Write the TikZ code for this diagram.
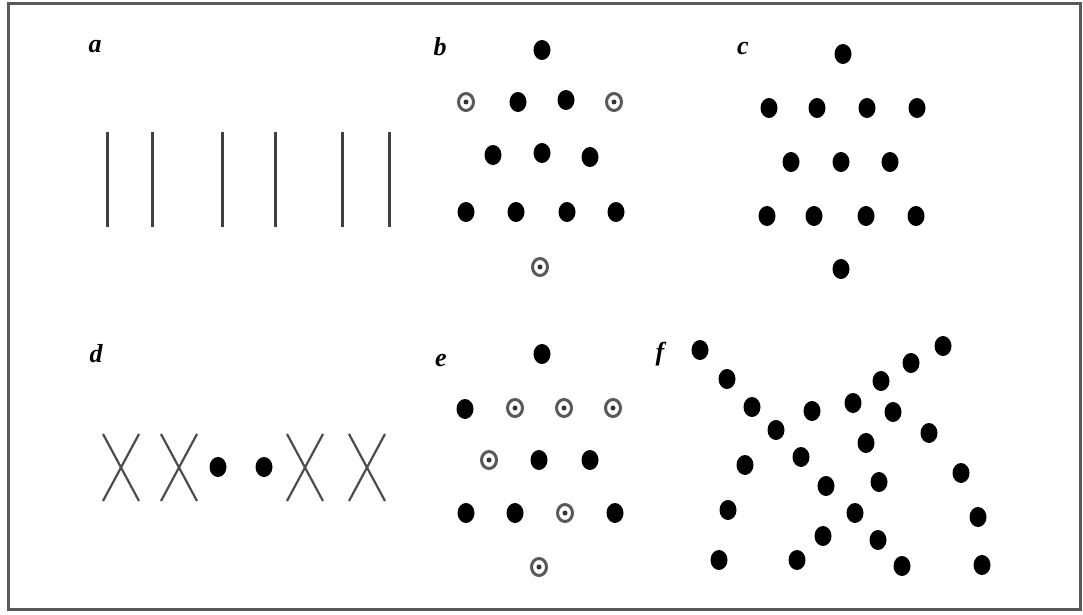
\documentclass[tikz,border=0pt]{standalone}
\usepackage{fontspec}
\setmainfont{Liberation Serif}

\tikzset{
  fulldot/.style={fill=black},
  ringdot/.style={draw=gray!70!black, line width=3pt, fill=white},
  bar/.style={draw=black!75, line width=3pt},
  cross/.style={draw=black!70, line width=2.2pt},
  panel/.style={font=\fontsize{26}{26}\selectfont\bfseries\itshape, inner sep=0pt}
}

\begin{document}
\begin{tikzpicture}[x=1pt, y=-1pt]
        \useasboundingbox (0,0) rectangle (1083,615);
        % --- Frame ---
        \draw[gray!70!black, line width=3pt] (8,4) rectangle (1080,609);

        % --- Panel labels ---
        \node[panel] (lab-a) at (95,47) {a};
        \node[panel] (lab-b) at (440,47) {b};
        \node[panel] (lab-c) at (743,49) {c};
        \node[panel] (lab-d) at (96,354) {d};
        \node[panel] (lab-e) at (441,360) {e};
        \node[panel] (lab-f) at (660,354) {f};

        % --- a: Bars ---
        \foreach \x in {107, 152, 222, 275, 342, 389} {
            \draw[bar] (\x,132) -- (\x,227);
        }

        % --- b: Filled and ringed dots ---
        \foreach \x/\y in {542/50, 518/102, 566/100, 493/155, 542/153, 590/157,
                           466/212, 516/212, 567/212, 616/212} {
            \fill[fulldot] (\x,\y) ellipse (8.5pt and 10pt);
        }
        \foreach \x/\y in {466/102, 614/102, 540/267} {
            \draw[ringdot] (\x,\y) ellipse (7.5pt and 8.5pt);
            \fill[gray!40!black] (\x,\y) circle (2.5pt);
        }

        % --- c: All filled ---
        \foreach \x/\y in {843/54, 769/108, 817/108, 867/108, 917/108,
                           791/162, 841/162, 890/162,
                           767/216, 814/216, 866/216, 916/216, 841/269} {
            \fill[fulldot] (\x,\y) ellipse (8.5pt and 10pt);
        }

        % --- d: Crosses and dots ---
        \foreach \x in {121, 179, 305, 367} {
            \draw[cross] (\x-18,434) -- (\x+18,501) (\x-18,501) -- (\x+18,434);
        }
        \foreach \x in {218, 264} {
            \fill[fulldot] (\x,467) ellipse (8.5pt and 10pt);
        }

        % --- e: Mixed ---
        \foreach \x/\y in {542/354, 465/409, 539/460, 590/460,
                           466/513, 515/513, 615/513} {
            \fill[fulldot] (\x,\y) ellipse (8.5pt and 10pt);
        }
        \foreach \x/\y in {515/408, 564/408, 613/408, 489/460, 565/513, 539/567} {
            \draw[ringdot] (\x,\y) ellipse (7.5pt and 8.5pt);
            \fill[gray!40!black] (\x,\y) circle (2.5pt);
        }

        % --- f: Scattered dots ---
        \foreach \x/\y in {700/350, 727/379, 752/407, 776/430, 812/411, 853/403,
                           881/381, 911/363, 943/346, 893/412, 929/433, 866/443,
                           745/465, 801/457, 826/486, 879/482, 961/473, 728/510,
                           855/513, 978/517, 823/536, 878/540, 719/560, 797/560,
                           902/566, 982/565} {
            \fill[fulldot] (\x,\y) ellipse (8.5pt and 10pt);
        }
\end{tikzpicture}
\end{document}
